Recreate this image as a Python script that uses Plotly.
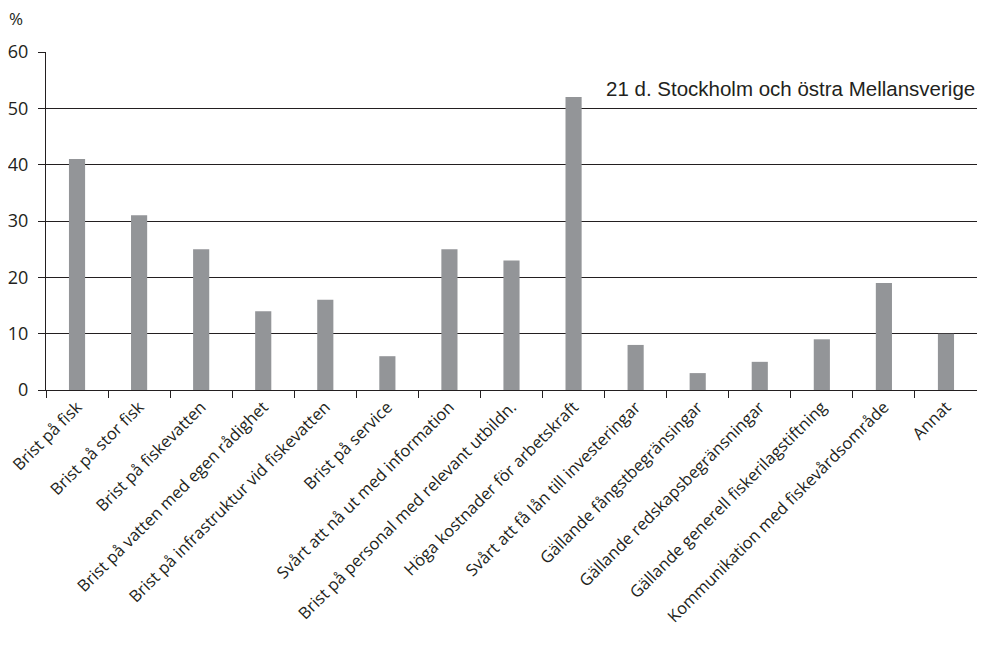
import plotly.graph_objs as go

categories = [
    "Brist på fisk",
    "Brist på stor fisk",
    "Brist på fiskevatten",
    "Brist på vatten med egen rådighet",
    "Brist på infrastruktur vid fiskevatten",
    "Brist på service",
    "Svårt att nå ut med information",
    "Brist på personal med relevant utbildn.",
    "Höga kostnader för arbetskraft",
    "Svårt att få lån till investeringar",
    "Gällande fångstbegränsingar",
    "Gällande redskapsbegränsningar",
    "Gällande generell fiskerilagstiftning",
    "Kommunikation med fiskevårdsområde",
    "Annat",
]
values = [41, 31, 25, 14, 16, 6, 25, 23, 52, 8, 3, 5, 9, 19, 10]
y_ticks = [0, 10, 20, 30, 40, 50, 60]

fig = go.Figure()
fig.add_trace(
    go.Bar(
        x=categories,
        y=values,
        marker={"color": "#939598", "line": {"width": 0}},
        width=0.26,
    )
)

fig.add_annotation(
    x=1, y=53.6, xref="paper", yref="y",
    text="21 d. Stockholm och östra Mellansverige",
    showarrow=False, xanchor="right", yanchor="middle",
    font={"family": "Liberation Sans, Arial", "size": 20.5, "color": "#231f20"},
)
fig.add_annotation(
    x=0, y=1, xref="paper", yref="paper",
    text="%", showarrow=False, xanchor="left", yanchor="bottom",
    xshift=-39, yshift=20,
    font={"family": "Open Sans", "size": 17, "color": "#231f20"},
)

# body margin of the html page is 8px, so the figure is shifted by that amount
fig.update_layout(
    width=977,
    height=643,
    margin={"l": 38, "r": 8, "t": 44, "b": 261},
    plot_bgcolor="white",
    paper_bgcolor="white",
    showlegend=False,
    font={"family": "Open Sans", "color": "#231f20"},
    xaxis={
        "type": "category",
        "tickson": "boundaries",
        "ticks": "outside",
        "ticklen": 7,
        "tickcolor": "#231f20",
        "tickangle": -45,
        "tickfont": {"size": 16.5},
        "showline": True,
        "linecolor": "#231f20",
        "linewidth": 1,
        "showgrid": False,
        "automargin": False,
    },
    yaxis={
        "range": [0, 60],
        "tickvals": y_ticks,
        "ticks": "outside",
        "ticklen": 7,
        "tickcolor": "#231f20",
        "tickfont": {"size": 18},
        "ticklabelstandoff": 6,
        "showline": True,
        "linecolor": "#231f20",
        "linewidth": 1,
        "showgrid": True,
        "gridcolor": "#231f20",
        "gridwidth": 1,
        "zeroline": False,
        "automargin": False,
    },
)

fig.write_html("out.html")
